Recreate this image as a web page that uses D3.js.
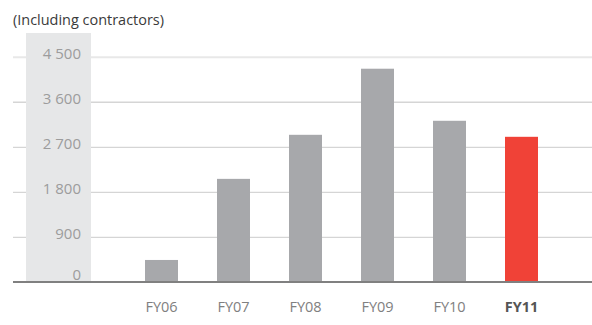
<!DOCTYPE html>
<html><head><meta charset="utf-8">
<script src="https://cdn.jsdelivr.net/npm/d3@7"></script>
<style>
html,body{margin:0;padding:0;background:#fff;}
svg{display:block;font-family:"Open Sans","DejaVu Sans",sans-serif;}
</style></head>
<body><svg id="c" width="592" height="325"></svg>
<script>
const categories = ["FY06","FY07","FY08","FY09","FY10","FY11"];
const values = [440, 2060, 2940, 4260, 3220, 2900];
const tickValues = [0, 900, 1800, 2700, 3600, 4500];
const title = "(Including contractors)";

const svg = d3.select("#c");
const W = 592;
const y = d3.scaleLinear().domain([0, 4500]).range([282, 56.7]);
const x = d3.scaleBand().domain(categories).range([125.5, 557.5])
  .paddingInner(1 - 33/72).paddingOuter((1 - 33/72)/2);

// gridlines
svg.append("g").selectAll("line").data(tickValues.filter(d => d > 0)).join("line")
  .attr("x1", 13).attr("x2", W)
  .attr("y1", d => y(d) + 0.5).attr("y2", d => y(d) + 0.5)
  .attr("stroke", d => d === 4500 ? "#e8e8e8" : "#d5d5d5")
  .attr("stroke-width", d => d === 4500 ? 2 : 1.3);

// grey band behind tick labels
svg.append("rect").attr("x", 26).attr("y", 33).attr("width", 65).attr("height", y(0) - 33)
  .attr("fill", "#e6e7e8");

// y axis labels
const yAxis = d3.axisLeft(y).tickValues(tickValues).tickSize(0).tickPadding(0)
  .tickFormat(d => d3.format(",")(d).replace(/,/g, " "));
const ya = svg.append("g").attr("transform", "translate(81,0)").call(yAxis);
ya.select(".domain").remove();
ya.selectAll("text").attr("font-family", "'Open Sans',sans-serif").attr("font-size", 15)
  .attr("fill", "#9c9c9c").attr("dy", null).attr("y", 0)
  .attr("transform", d => `translate(0,${d === 0 ? -2.5 : 1.5})`)
  .style("dominant-baseline", "alphabetic");

// bars
svg.append("g").selectAll("rect").data(categories).join("rect")
  .attr("x", d => x(d)).attr("width", x.bandwidth())
  .attr("y", (d, i) => y(values[i])).attr("height", (d, i) => y(0) - y(values[i]))
  .attr("fill", (d, i) => i === categories.length - 1 ? "#f04237" : "#a7a8ab");

// baseline
svg.append("line").attr("x1", 13).attr("x2", W).attr("y1", y(0)).attr("y2", y(0))
  .attr("stroke", "#808080").attr("stroke-width", 2);

// x axis labels
const xAxis = d3.axisBottom(x).tickSize(0).tickPadding(0);
const xa = svg.append("g").attr("transform", "translate(0,312)").call(xAxis);
xa.select(".domain").remove();
xa.selectAll("text").attr("font-family", "'Open Sans',sans-serif").attr("font-size", 14.5)
  .attr("dy", null).attr("y", 0)
  .attr("fill", (d, i) => i === categories.length - 1 ? "#555" : "#808080")
  .attr("font-weight", (d, i) => i === categories.length - 1 ? "bold" : "normal");

// title
svg.append("text").attr("x", 13).attr("y", 24.5).attr("font-size", 15).attr("fill", "#3a3a3a")
  .attr("textLength", 151).attr("lengthAdjust", "spacingAndGlyphs")
  .text(title);
</script></body></html>
